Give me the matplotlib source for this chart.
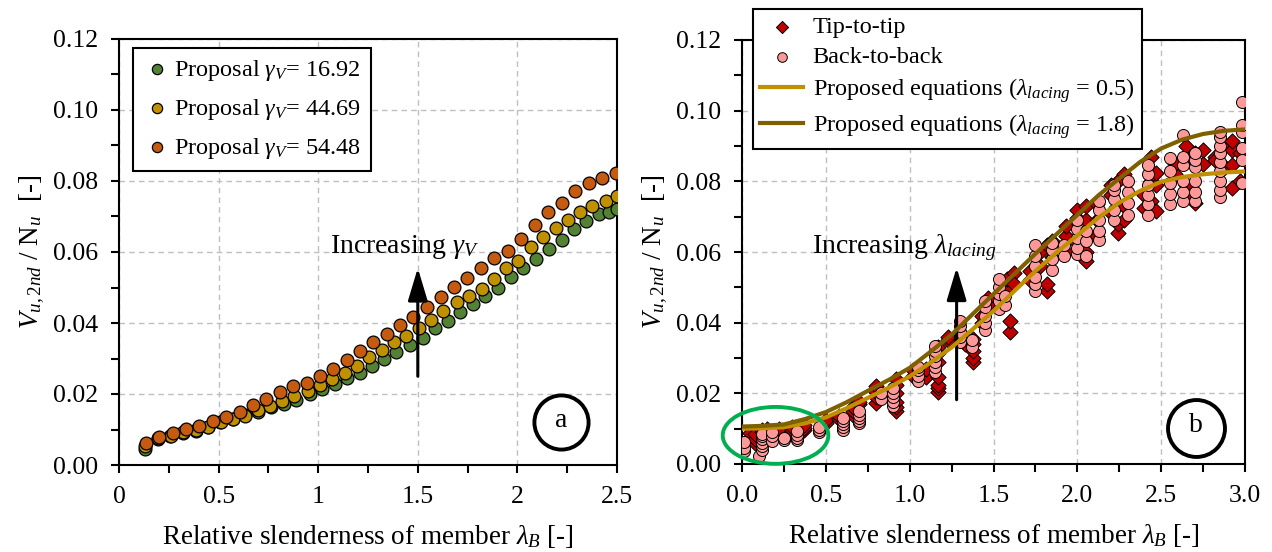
import numpy as np
import matplotlib.pyplot as plt
from matplotlib.patches import Ellipse
from matplotlib.ticker import MultipleLocator, FormatStrFormatter

plt.rcParams['font.family'] = ['Liberation Serif', 'DejaVu Serif']
plt.rcParams['mathtext.fontset'] = 'custom'
plt.rcParams['mathtext.rm'] = 'Liberation Serif'
plt.rcParams['mathtext.it'] = 'Liberation Serif:italic'
plt.rcParams['mathtext.bf'] = 'Liberation Serif:bold'

# ---------------- (a) proposal for different gamma_V ----------------
gv_labels = ['16.92', '44.69', '54.48']
gv_colors = ['#548235', '#BF9000', '#C55A11']

x_g1 = [0.133, 0.195, 0.256, 0.322, 0.385, 0.447, 0.508, 0.570, 0.635, 0.697,
        0.762, 0.830, 0.891, 0.957, 1.018, 1.082, 1.143, 1.209, 1.270, 1.332,
        1.393, 1.459, 1.527, 1.584, 1.650, 1.711, 1.777, 1.838, 1.902, 1.967,
        2.029, 2.094, 2.158, 2.223, 2.285, 2.346, 2.408, 2.459, 2.500]
y_g1 = [0.0046, 0.0073, 0.0081, 0.0091, 0.0096, 0.0106, 0.0120, 0.0130, 0.0142, 0.0150,
        0.0162, 0.0172, 0.0184, 0.0199, 0.0214, 0.0229, 0.0246, 0.0260, 0.0278, 0.0298,
        0.0317, 0.0337, 0.0359, 0.0385, 0.0406, 0.0431, 0.0454, 0.0477, 0.0500, 0.0530,
        0.0554, 0.0581, 0.0608, 0.0635, 0.0665, 0.0687, 0.0707, 0.0714, 0.0720]

x_g2 = [0.133, 0.195, 0.260, 0.322, 0.385, 0.447, 0.512, 0.574, 0.635, 0.697,
        0.758, 0.820, 0.881, 0.947, 1.008, 1.070, 1.133, 1.195, 1.256, 1.318,
        1.379, 1.441, 1.506, 1.568, 1.629, 1.695, 1.756, 1.820, 1.881, 1.943,
        2.004, 2.070, 2.131, 2.193, 2.254, 2.316, 2.377, 2.443, 2.500]
y_g2 = [0.0053, 0.0076, 0.0081, 0.0093, 0.0099, 0.0108, 0.0120, 0.0130, 0.0138, 0.0155,
        0.0165, 0.0180, 0.0194, 0.0209, 0.0224, 0.0241, 0.0260, 0.0278, 0.0305, 0.0325,
        0.0347, 0.0362, 0.0385, 0.0408, 0.0433, 0.0458, 0.0477, 0.0497, 0.0525, 0.0554,
        0.0576, 0.0615, 0.0641, 0.0668, 0.0690, 0.0712, 0.0730, 0.0744, 0.0758]

x_g3 = [0.134, 0.202, 0.269, 0.336, 0.403, 0.470, 0.539, 0.607, 0.673, 0.740,
        0.808, 0.875, 0.942, 1.009, 1.076, 1.143, 1.210, 1.277, 1.344, 1.411,
        1.477, 1.548, 1.615, 1.682, 1.749, 1.816, 1.885, 1.953, 2.020, 2.086,
        2.156, 2.223, 2.291, 2.357, 2.424, 2.494]
y_g3 = [0.0063, 0.0078, 0.0091, 0.0101, 0.0111, 0.0123, 0.0136, 0.0149, 0.0169, 0.0186,
        0.0207, 0.0223, 0.0231, 0.0252, 0.0271, 0.0296, 0.0322, 0.0346, 0.0369, 0.0394,
        0.0418, 0.0446, 0.0472, 0.0502, 0.0526, 0.0556, 0.0584, 0.0603, 0.0638, 0.0677,
        0.0712, 0.0738, 0.0771, 0.0795, 0.0809, 0.0822]

# ---------------- (b) test results and proposed equations ----------------
tip_x = [0.05, 0.05, 0.08, 0.08, 0.08, 0.12, 0.12, 0.15, 0.22, 0.22,
         0.30, 0.30, 0.37, 0.37, 0.37, 0.50, 0.50, 0.58, 0.58, 0.66,
         0.66, 0.66, 0.70, 0.70, 0.80, 0.80, 0.80, 0.80, 0.92, 0.92,
         0.92, 0.92, 0.92, 0.92, 1.02, 1.02, 1.10, 1.10, 1.17, 1.17,
         1.17, 1.17, 1.17, 1.17, 1.17, 1.23, 1.23, 1.33, 1.33, 1.38,
         1.38, 1.38, 1.38, 1.38, 1.43, 1.43, 1.47, 1.47, 1.58, 1.58,
         1.60, 1.60, 1.62, 1.62, 1.72, 1.72, 1.78, 1.78, 1.82, 1.82,
         1.82, 1.85, 1.85, 1.93, 1.93, 1.93, 2.00, 2.00, 2.00, 2.05,
         2.05, 2.05, 2.05, 2.12, 2.12, 2.12, 2.20, 2.20, 2.20, 2.24,
         2.24, 2.24, 2.28, 2.28, 2.28, 2.40, 2.40, 2.44, 2.44, 2.44,
         2.47, 2.47, 2.47, 2.58, 2.58, 2.65, 2.65, 2.65, 2.65, 2.70,
         2.70, 2.70, 2.75, 2.75, 2.82, 2.82, 2.88, 2.88, 2.92, 2.92,
         2.92, 2.92, 2.97, 2.97, 3.00]
tip_y = [0.0075, 0.0088, 0.0060, 0.0072, 0.0085, 0.0090, 0.0095, 0.0098, 0.0092, 0.0100,
         0.0096, 0.0104, 0.0095, 0.0102, 0.0110, 0.0115, 0.0125, 0.0128, 0.0136, 0.0140,
         0.0150, 0.0160, 0.0170, 0.0175, 0.0172, 0.0190, 0.0205, 0.0220, 0.0150, 0.0160,
         0.0175, 0.0200, 0.0225, 0.0240, 0.0250, 0.0265, 0.0245, 0.0270, 0.0205, 0.0215,
         0.0225, 0.0245, 0.0290, 0.0315, 0.0330, 0.0350, 0.0360, 0.0340, 0.0360, 0.0290,
         0.0300, 0.0320, 0.0340, 0.0355, 0.0400, 0.0420, 0.0450, 0.0470, 0.0500, 0.0525,
         0.0375, 0.0405, 0.0540, 0.0510, 0.0520, 0.0545, 0.0560, 0.0600, 0.0490, 0.0510,
         0.0620, 0.0585, 0.0630, 0.0600, 0.0645, 0.0675, 0.0695, 0.0720, 0.0625, 0.0575,
         0.0600, 0.0690, 0.0730, 0.0645, 0.0690, 0.0735, 0.0710, 0.0760, 0.0790, 0.0655,
         0.0680, 0.0800, 0.0690, 0.0730, 0.0820, 0.0725, 0.0760, 0.0745, 0.0800, 0.0870,
         0.0715, 0.0790, 0.0825, 0.0820, 0.0850, 0.0760, 0.0790, 0.0860, 0.0900, 0.0740,
         0.0850, 0.0880, 0.0850, 0.0890, 0.0870, 0.0860, 0.0840, 0.0900, 0.0780, 0.0845,
         0.0890, 0.0915, 0.0800, 0.0880, 0.0860]

back_x = [0.01, 0.01, 0.01, 0.10, 0.12, 0.12, 0.12, 0.12, 0.12, 0.12,
          0.18, 0.18, 0.18, 0.25, 0.25, 0.33, 0.33, 0.33, 0.33, 0.46,
          0.46, 0.46, 0.60, 0.60, 0.60, 0.60, 0.60, 0.70, 0.70, 0.70,
          0.70, 0.70, 0.83, 0.83, 0.90, 0.90, 0.90, 0.90, 0.90, 1.05,
          1.05, 1.05, 1.05, 1.15, 1.15, 1.15, 1.15, 1.15, 1.15, 1.30,
          1.30, 1.30, 1.30, 1.30, 1.37, 1.37, 1.45, 1.45, 1.45, 1.45,
          1.45, 1.53, 1.53, 1.53, 1.53, 1.53, 1.57, 1.57, 1.75, 1.75,
          1.75, 1.75, 1.75, 1.75, 1.85, 1.85, 1.85, 1.85, 1.92, 1.92,
          2.00, 2.00, 2.00, 2.00, 2.00, 2.05, 2.05, 2.05, 2.13, 2.13,
          2.13, 2.13, 2.13, 2.22, 2.22, 2.22, 2.22, 2.22, 2.30, 2.30,
          2.30, 2.30, 2.42, 2.42, 2.42, 2.42, 2.42, 2.42, 2.55, 2.55,
          2.55, 2.55, 2.55, 2.63, 2.63, 2.63, 2.63, 2.63, 2.63, 2.70,
          2.70, 2.70, 2.70, 2.70, 2.70, 2.85, 2.85, 2.85, 2.85, 2.85,
          2.85, 2.85, 2.85, 2.85, 2.98, 2.98, 2.98, 2.98, 2.98, 2.98]
back_y = [0.0038, 0.0045, 0.0062, 0.0023, 0.0040, 0.0050, 0.0060, 0.0070, 0.0078, 0.0085,
          0.0065, 0.0080, 0.0090, 0.0068, 0.0075, 0.0068, 0.0075, 0.0083, 0.0092, 0.0090,
          0.0097, 0.0105, 0.0095, 0.0105, 0.0112, 0.0122, 0.0130, 0.0115, 0.0122, 0.0130,
          0.0140, 0.0150, 0.0185, 0.0200, 0.0165, 0.0175, 0.0190, 0.0200, 0.0215, 0.0235,
          0.0250, 0.0265, 0.0275, 0.0260, 0.0275, 0.0290, 0.0305, 0.0320, 0.0335, 0.0345,
          0.0360, 0.0375, 0.0390, 0.0405, 0.0330, 0.0350, 0.0380, 0.0400, 0.0420, 0.0445,
          0.0460, 0.0440, 0.0460, 0.0480, 0.0500, 0.0525, 0.0450, 0.0475, 0.0490, 0.0510,
          0.0530, 0.0560, 0.0590, 0.0620, 0.0550, 0.0580, 0.0605, 0.0625, 0.0590, 0.0620,
          0.0595, 0.0610, 0.0640, 0.0665, 0.0690, 0.0590, 0.0630, 0.0660, 0.0635, 0.0660,
          0.0690, 0.0720, 0.0745, 0.0690, 0.0720, 0.0750, 0.0775, 0.0790, 0.0705, 0.0740,
          0.0770, 0.0800, 0.0705, 0.0735, 0.0760, 0.0790, 0.0820, 0.0845, 0.0735, 0.0765,
          0.0795, 0.0830, 0.0865, 0.0745, 0.0770, 0.0800, 0.0845, 0.0870, 0.0930, 0.0745,
          0.0770, 0.0800, 0.0840, 0.0860, 0.0880, 0.0755, 0.0775, 0.0800, 0.0830, 0.0855,
          0.0880, 0.0900, 0.0925, 0.0940, 0.0795, 0.0860, 0.0895, 0.0940, 0.0960, 0.1025]

# proposed equation curves, read every 0.125
eq_x = [0.0, 0.125, 0.25, 0.375, 0.5, 0.625, 0.75, 0.875, 1.0, 1.125, 1.25, 1.375,
        1.5, 1.625, 1.75, 1.875, 2.0, 2.125, 2.25, 2.375, 2.5, 2.625, 2.75, 2.875, 3.0]
eq_y_05 = [0.0100, 0.0101, 0.0104, 0.0115, 0.0132, 0.0158, 0.0187, 0.0216, 0.0248,
           0.0287, 0.0330, 0.0381, 0.0433, 0.0490, 0.0546, 0.0598, 0.0647, 0.0697,
           0.0740, 0.0773, 0.0799, 0.0812, 0.0820, 0.0825, 0.0828]
eq_y_18 = [0.0106, 0.0108, 0.0112, 0.0127, 0.0147, 0.0175, 0.0207, 0.0238, 0.0272,
           0.0318, 0.0366, 0.0424, 0.0481, 0.0538, 0.0595, 0.0650, 0.0705, 0.0760,
           0.0808, 0.0855, 0.0893, 0.0918, 0.0934, 0.0943, 0.0947]

fig = plt.figure(figsize=(12.72, 5.52), dpi=100)
ax1 = fig.add_axes([119 / 1272, 87 / 552, 498 / 1272, 426 / 552])
ax2 = fig.add_axes([742 / 1272, 88 / 552, 503 / 1272, 424 / 552])

for ax in (ax1, ax2):
    ax.set_ylim(0, 0.12)
    ax.yaxis.set_major_locator(MultipleLocator(0.02))
    ax.yaxis.set_minor_locator(MultipleLocator(0.01))
    ax.yaxis.set_major_formatter(FormatStrFormatter('%.2f'))
    ax.xaxis.set_major_locator(MultipleLocator(0.5))
    ax.xaxis.set_minor_locator(MultipleLocator(0.25))
    ax.tick_params(which='both', direction='out', length=6, width=1.5,
                   labelsize=18.5, pad=9)
    ax.grid(True, which='major', ls=(0, (4, 3)), color='#BFBFBF', lw=1)
    ax.set_axisbelow(True)
    for sp in ax.spines.values():
        sp.set_linewidth(1.5)
    ax.set_xlabel(r'Relative slenderness of member $\lambda_B$ [-]', fontsize=19.5, labelpad=11)
    ax.set_ylabel(r'$V_{u,2nd}$ / N$_u$  [-]', fontsize=19.5, labelpad=4)

# panel (a)
ax1.set_xlim(0, 2.5)
ax1.xaxis.set_major_formatter(FormatStrFormatter('%g'))
for xs, ys, lab, col in zip([x_g1, x_g2, x_g3], [y_g1, y_g2, y_g3], gv_labels, gv_colors):
    ax1.scatter(xs, ys, s=85, c=col, edgecolors='k', linewidths=0.9, zorder=3,
                label=r'Proposal $\gamma_V$= ' + lab)
leg1 = ax1.legend(loc='upper left', bbox_to_anchor=(0.028, 0.979), borderaxespad=0,
                  fontsize=17.5, frameon=True, fancybox=False, framealpha=1,
                  edgecolor='k', handletextpad=0.1, handlelength=1.2,
                  labelspacing=0.58, markerscale=0.8, borderpad=0.4)
leg1.get_frame().set_linewidth(1.5)
ax1.annotate('', xy=(1.5, 0.0555), xytext=(1.5, 0.025),
             arrowprops=dict(arrowstyle='-|>,head_length=1.0,head_width=0.3',
                             color='k', lw=2.2, mutation_scale=20, shrinkA=0, shrinkB=0))
ax1.text(1.06, 0.0596, r'Increasing $\gamma_V$', fontsize=20, va='baseline')
ax1.plot(2.22, 0.012, marker='o', ms=39, mfc='none', mec='k', mew=2.8)
ax1.text(2.22, 0.0125, 'a', fontsize=20, ha='center', va='center')

# panel (b)
ax2.set_xlim(0, 3.0)
ax2.xaxis.set_major_formatter(FormatStrFormatter('%.1f'))
ax2.scatter(tip_x, tip_y, s=60, marker='D', c='#C00000', edgecolors='k',
            linewidths=0.7, zorder=3, label='Tip-to-tip')
ax2.scatter(back_x, back_y, s=75, marker='o', c='#FF9999', edgecolors='k',
            linewidths=0.7, zorder=3, label='Back-to-back')
ax2.plot(eq_x, eq_y_05, color='#BF9000', lw=3, zorder=4,
         label=r'Proposed equations ($\lambda_{lacing}$ = 0.5)')
ax2.plot(eq_x, eq_y_18, color='#7F6000', lw=3, zorder=4,
         label=r'Proposed equations ($\lambda_{lacing}$ = 1.8)')
leg2 = ax2.legend(loc='upper left', bbox_to_anchor=(0.022, 1.073), borderaxespad=0,
                  fontsize=17.5, frameon=True, fancybox=False, framealpha=1,
                  edgecolor='k', handletextpad=0.4, handlelength=1.75,
                  labelspacing=0.32, markerscale=0.8, borderpad=0.3)
leg2.get_frame().set_linewidth(1.5)
ax2.annotate('', xy=(1.28, 0.0556), xytext=(1.28, 0.0182),
             arrowprops=dict(arrowstyle='-|>,head_length=1.0,head_width=0.3',
                             color='k', lw=2.2, mutation_scale=20, shrinkA=0, shrinkB=0))
ax2.text(0.42, 0.0597, r'Increasing $\lambda_{lacing}$', fontsize=20, va='baseline')
ax2.plot(2.71, 0.0103, marker='o', ms=41, mfc='none', mec='k', mew=2.8)
ax2.text(2.71, 0.0108, 'b', fontsize=20, ha='center', va='center')
ax2.add_patch(Ellipse((0.2, 0.0081), 0.63, 0.0161, fill=False, ec='#00B050',
                      lw=2.8, clip_on=False, zorder=5))

fig.savefig('out.png', dpi=100)
